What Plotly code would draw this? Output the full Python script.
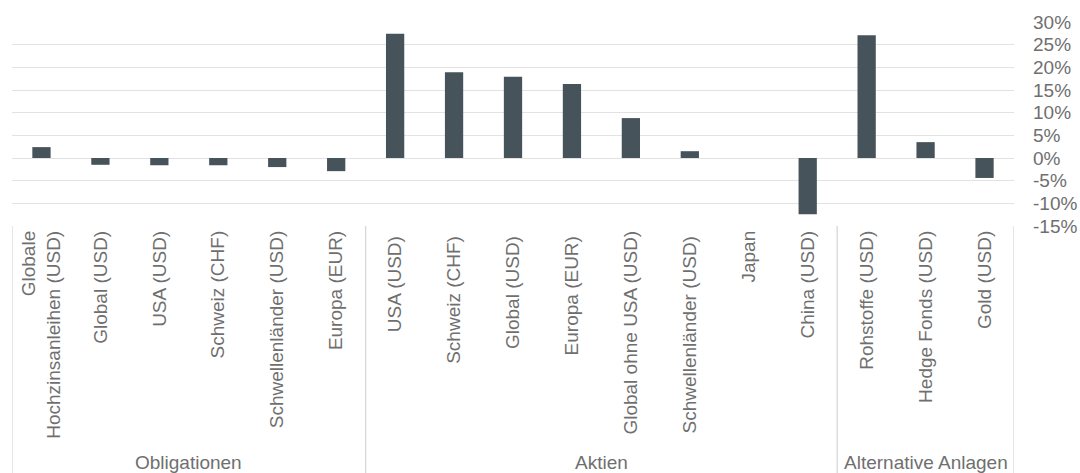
import plotly.graph_objects as go

groups = ["Obligationen", "Aktien", "Alternative Anlagen"]
group_sizes = [6, 8, 3]
categories = [
    "Globale<br>Hochzinsanleihen (USD)", "Global (USD)", "USA (USD)", "Schweiz (CHF)",
    "Schwellenländer (USD)", "Europa (EUR)",
    "USA (USD) ", "Schweiz (CHF) ", "Global (USD) ", "Europa (EUR) ",
    "Global ohne USA (USD)", "Schwellenländer (USD) ", "Japan", "China (USD)",
    "Rohstoffe (USD)", "Hedge Fonds (USD)", "Gold (USD)",
]
values = [2.4, -1.5, -1.6, -1.6, -2.0, -2.9,
          27.4, 18.9, 17.9, 16.3, 8.8, 1.5, 0.0, -12.4,
          27.1, 3.5, -4.4]
y_ticks = [-15, -10, -5, 0, 5, 10, 15, 20, 25, 30]
y_tick_text = ["-15%", "-10%", "-5%", "0%", "5%", "10%", "15%", "20%", "25%", "30%"]

FONT = "Liberation Sans"
TXT = "#6f6f6f"
BOX = "#d8d8d8"

fig = go.Figure(go.Bar(
    x=list(range(len(categories))), y=values,
    marker=dict(color="#47535b", line=dict(width=0)),
    width=0.31, hoverinfo="skip",
))

fig.update_layout(
    width=1080, height=473,
    margin=dict(l=12, r=66, t=22, b=247),
    paper_bgcolor="white", plot_bgcolor="white",
    showlegend=False,
    font=dict(family=FONT, size=19, color=TXT),
    xaxis=dict(
        tickmode="array", tickvals=list(range(len(categories))), ticktext=categories,
        tickangle=-90, range=[-0.5, len(categories) - 0.5],
        showgrid=False, zeroline=False, showline=False, ticks="",
        automargin=False,
        tickfont=dict(family=FONT, size=19, color=TXT),
    ),
    yaxis=dict(
        side="right", range=[-15, 30], tickmode="array",
        tickvals=y_ticks, ticktext=y_tick_text,
        showgrid=True, gridcolor="#e2e2e2", gridwidth=1.3,
        zeroline=False, showline=False, ticks="",
        ticklabelstandoff=18, automargin=False,
        tickfont=dict(family=FONT, size=19, color=TXT),
    ),
)

# group box lines and labels
shapes = []
annotations = []
start = 0
bounds = [-0.5]
for g, n in zip(groups, group_sizes):
    end = start + n
    bounds.append(end - 0.5)
    annotations.append(dict(
        x=(start + end - 1) / 2, xref="x", y=-1.16, yref="paper",
        text=g, showarrow=False, xanchor="center", yanchor="middle",
        font=dict(family=FONT, size=19, color=TXT),
    ))
    start = end
for b in bounds:
    shapes.append(dict(type="line", xref="x", yref="paper", x0=b, x1=b, y0=0, y1=-1.3,
                       line=dict(color=BOX, width=1.3)))
fig.update_layout(shapes=shapes, annotations=annotations)

fig.write_html("out.html")
